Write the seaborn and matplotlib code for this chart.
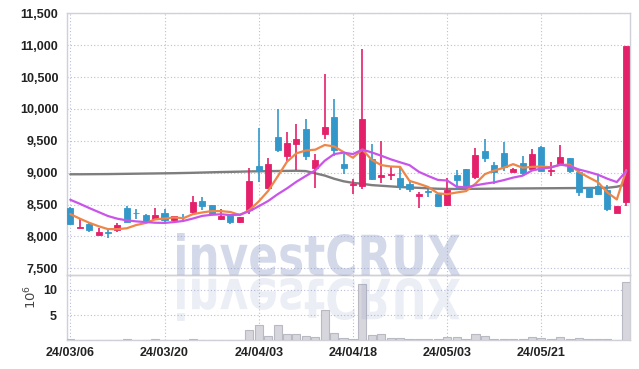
import matplotlib
matplotlib.use("Agg")
import numpy as np
import pandas as pd
import matplotlib.pyplot as plt
import seaborn as sns
from matplotlib.textpath import TextPath
from matplotlib.patches import PathPatch
from matplotlib.font_manager import FontProperties
import matplotlib.transforms as mtransforms

# ---------------- data ----------------
dates = ["24/03/06", "24/03/07", "24/03/08", "24/03/11", "24/03/12", "24/03/13", "24/03/14",
         "24/03/15", "24/03/18", "24/03/19", "24/03/20", "24/03/21", "24/03/22", "24/03/25",
         "24/03/26", "24/03/27", "24/03/28", "24/03/29", "24/04/01", "24/04/02", "24/04/03",
         "24/04/04", "24/04/05", "24/04/08", "24/04/09", "24/04/11", "24/04/12", "24/04/15",
         "24/04/16", "24/04/17", "24/04/18", "24/04/19", "24/04/22", "24/04/23", "24/04/24",
         "24/04/25", "24/04/26", "24/04/29", "24/04/30", "24/05/02", "24/05/03", "24/05/07",
         "24/05/08", "24/05/09", "24/05/10", "24/05/13", "24/05/14", "24/05/16", "24/05/17",
         "24/05/20", "24/05/21", "24/05/22", "24/05/23", "24/05/24", "24/05/27", "24/05/28",
         "24/05/29", "24/05/30", "24/05/31", "24/06/03"]

open_ = [8450, 8140, 8200, 8030, 8070, 8095, 8450, 8375, 8340, 8267,
         8367, 8251, 8310, 8383, 8550, 8487, 8278, 8350, 8226, 8408,
         9100, 8765, 9555, 9256, 9455, 9691, 9079, 9601, 9874, 9141,
         8800, 8785, 9209, 8925, 8960, 8917, 8827, 8628, 8715, 8670,
         8495, 8960, 9058, 8930, 9345, 9125, 9310, 9015, 9150, 9063,
         9410, 9030, 9125, 9228, 9013, 8760, 8795, 8727, 8375, 8540]
high = [8460, 8290, 8230, 8140, 8105, 8205, 8470, 8435, 8345, 8446,
        8425, 8320, 8345, 8628, 8618, 8492, 8430, 8355, 8310, 9080,
        9700, 9231, 10000, 9639, 9758, 9848, 9298, 10550, 10151, 9298,
        8906, 10947, 9455, 9491, 9099, 9089, 8854, 8697, 8775, 8680,
        8920, 9037, 9065, 9385, 9530, 9165, 9478, 9075, 9255, 9372,
        9415, 9168, 9433, 9232, 9058, 8780, 8980, 8810, 8485, 10990]
low = [8180, 8135, 8070, 8025, 7975, 8075, 8220, 8278, 8220, 8260,
       8215, 8240, 8245, 8330, 8408, 8330, 8262, 8195, 8215, 8350,
       8855, 8750, 9330, 9180, 9047, 9204, 8760, 9534, 9262, 8984,
       8670, 8749, 8880, 8843, 8880, 8722, 8697, 8440, 8618, 8460,
       8480, 8748, 8770, 8895, 9165, 8820, 9025, 9005, 8965, 9040,
       9020, 8947, 9105, 9000, 8633, 8605, 8648, 8400, 8360, 8470]
close = [8190, 8155, 8105, 8065, 8060, 8184, 8226, 8360, 8226, 8340,
         8251, 8314, 8300, 8540, 8477, 8356, 8314, 8226, 8304, 8863,
         9036, 9141, 9350, 9471, 9523, 9256, 9204, 9717, 9361, 9079,
         8815, 9848, 8895, 8958, 8970, 8785, 8749, 8670, 8700, 8477,
         8721, 8879, 8779, 9280, 9226, 9005, 9095, 9063, 9000, 9290,
         9030, 9045, 9240, 9025, 8700, 8625, 8665, 8430, 8480, 10990]

ma5 = [8350, 8280, 8215, 8160, 8115, 8114, 8128, 8179, 8211, 8267,
       8281, 8298, 8286, 8349, 8376, 8397, 8397, 8383, 8335, 8413,
       8549, 8714, 8939, 9172, 9304, 9348, 9361, 9434, 9412, 9323,
       9235, 9364, 9200, 9119, 9097, 9091, 8871, 8826, 8775, 8676,
       8663, 8689, 8711, 8827, 8977, 9034, 9077, 9134, 9078, 9091,
       9096, 9086, 9121, 9126, 9008, 8927, 8851, 8689, 8580, 9038]
ma10 = [8575, 8513, 8446, 8383, 8320, 8278, 8252, 8236, 8225, 8215,
        8212, 8225, 8243, 8280, 8322, 8339, 8348, 8334, 8342, 8395,
        8473, 8556, 8661, 8754, 8858, 8948, 9037, 9187, 9292, 9314,
        9292, 9362, 9317, 9266, 9210, 9163, 9118, 9013, 8947, 8887,
        8877, 8780, 8769, 8801, 8827, 8849, 8883, 8923, 8953, 9034,
        9065, 9081, 9127, 9102, 9049, 9011, 8968, 8905, 8853, 9023]
ma_long = [8975, 8975, 8976, 8977, 8978, 8980, 8982, 8984, 8986, 8988,
           8990, 8992, 8995, 8998, 9002, 9006, 9010, 9013, 9016, 9020,
           9022, 9024, 9026, 9028, 9030, 9025, 8990, 8955, 8905, 8865,
           8840, 8825, 8805, 8795, 8785, 8775, 8768, 8762, 8755, 8748,
           8745, 8745, 8746, 8747, 8748, 8750, 8751, 8752, 8753, 8754,
           8755, 8756, 8757, 8758, 8759, 8760, 8761, 8763, 8780, 8815]

volume = [0.2, 0.05, 0.05, 0.05, 0.05, 0.05, 0.2, 0.05, 0.05, 0.2,
          0.05, 0.05, 0.05, 0.2, 0.05, 0.05, 0.05, 0.05, 0.05, 2.0,
          3.0, 0.8, 3.0, 1.2, 1.3, 0.8, 0.6, 6.0, 1.5, 0.5,
          0.3, 11.3, 1.1, 1.3, 0.4, 0.5, 0.15, 0.15, 0.15, 0.15,
          0.65, 0.55, 0.15, 1.3, 0.9, 0.2, 0.3, 0.15, 0.15, 0.55,
          0.35, 0.15, 0.7, 0.15, 0.35, 0.15, 0.15, 0.15, 0.1, 11.7]

price_ticks = [7500, 8000, 8500, 9000, 9500, 10000, 10500, 11000, 11500]
vol_ticks = [5, 10]

# ---------------- style ----------------
UP = "#E5206A"
DOWN = "#3398C9"
GRID = "#B9BED8"
SPINE = "#CFD0D8"

sns.set_theme(style="white")
plt.rcParams["font.family"] = ["Liberation Sans", "DejaVu Sans"]

fig = plt.figure(figsize=(6.39, 3.69), dpi=100)
fig.patch.set_facecolor("white")
ax = fig.add_axes([66.7 / 639, 1 - 275 / 369, (630 - 66.7) / 639, (275 - 13.3) / 369])
axv = fig.add_axes([66.7 / 639, 1 - 340 / 369, (630 - 66.7) / 639, 65 / 369], sharex=ax)

n = len(close)
idx = np.arange(n)
df = pd.DataFrame({"i": idx, "open": open_, "high": high, "low": low, "close": close,
                   "ma5": ma5, "ma10": ma10, "ma_long": ma_long, "vol": volume})

colors = [UP if c >= o else DOWN for o, c in zip(df["open"], df["close"])]

# wicks and bodies
ax.vlines(df["i"], df["low"], df["high"], colors=colors, linewidth=1.2, zorder=3)
body_bottom = np.minimum(df["open"], df["close"])
body_h = np.maximum(np.abs(df["close"] - df["open"]), 12)
ax.bar(df["i"], body_h, bottom=body_bottom, width=0.64, color=colors,
       edgecolor=colors, linewidth=0.6, zorder=4)

# moving averages
sns.lineplot(data=df, x="i", y="ma_long", ax=ax, color="#7E7E7E", linewidth=1.7,
             legend=False, zorder=2)
sns.lineplot(data=df, x="i", y="ma5", ax=ax, color="#EE8648", linewidth=1.6,
             legend=False, zorder=5)
sns.lineplot(data=df, x="i", y="ma10", ax=ax, color="#C955E8", linewidth=1.6,
             legend=False, zorder=5)

# volume
axv.bar(df["i"], df["vol"], width=0.86, color="#D6D6DC", edgecolor="#B9B9C3",
        linewidth=0.8, zorder=3)

# axes formatting
tick_pos = idx[::10]
for a in (ax, axv):
    a.set_facecolor("none")
    a.set_xlim(-0.38, 59.4)
    a.set_xticks(tick_pos)
    a.grid(True, color=GRID, linestyle=(0, (1, 2)), linewidth=0.8)
    a.set_axisbelow(True)
    for s in a.spines.values():
        s.set_color(SPINE)
        s.set_linewidth(1.0)
    a.tick_params(length=0, labelsize=9, colors="#222222")
    a.set_xlabel("")
    a.set_ylabel("")

ax.set_ylim(7395, 11500)
ax.set_yticks(price_ticks)
ax.set_yticklabels([f"{v:,}" for v in price_ticks], fontweight="bold")
ax.tick_params(axis="x", labelbottom=False)
ax.tick_params(axis="y", pad=6)

axv.set_ylim(0, 13)
axv.set_yticks(vol_ticks)
axv.set_yticklabels([str(v) for v in vol_ticks], fontweight="bold")
axv.set_xticklabels([dates[i] for i in tick_pos], fontweight="bold")
axv.tick_params(axis="y", pad=7)
axv.tick_params(axis="x", pad=5)

fig.text(31 / 639, 1 - 297 / 369, r"$10^6$", rotation=90, ha="center", va="center",
         fontsize=9.5, color="#444444", family="DejaVu Sans")

# watermark with reflection
fp = FontProperties(family="DejaVu Sans", weight="bold")
tp = TextPath((0, 0), "investCRUX", size=100, prop=fp)
ext = tp.get_extents()
x0, x1 = 177, 460
H = 369
top_px, base_px = 233, 276
sx = (x1 - x0) / ext.width
sy = (base_px - top_px) / ext.height
tr_main = (mtransforms.Affine2D().translate(-ext.x0, -ext.y0).scale(sx, sy)
           .translate(x0, H - base_px))
fig.patches.append(PathPatch(tr_main.transform_path(tp), facecolor="#8E9BC7",
                             edgecolor="none", alpha=0.38, zorder=6,
                             transform=mtransforms.IdentityTransform()))
tr_ref = (mtransforms.Affine2D().translate(-ext.x0, -ext.y0).scale(sx, -sy)
          .translate(x0, H - 278))
fig.patches.append(PathPatch(tr_ref.transform_path(tp), facecolor="#8E9BC7",
                             edgecolor="none", alpha=0.17, zorder=6,
                             transform=mtransforms.IdentityTransform()))

fig.savefig("out.png", dpi=100, facecolor="white")
